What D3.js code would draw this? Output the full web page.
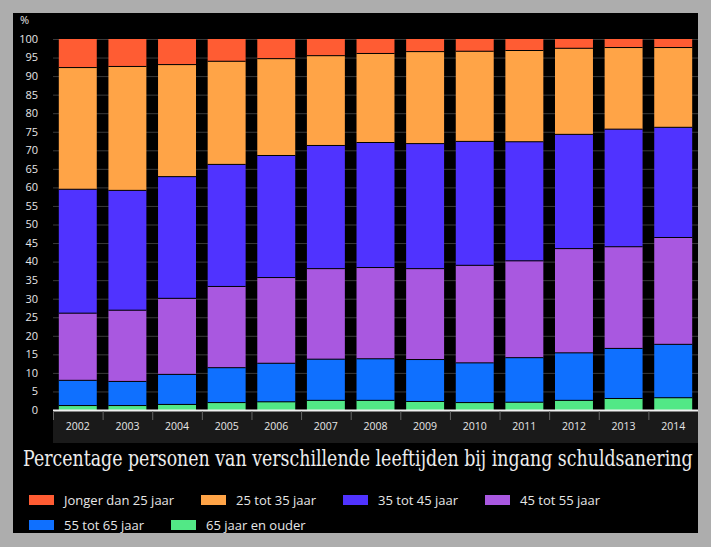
<!DOCTYPE html>
<html><head><meta charset="utf-8">
<script src="https://cdn.jsdelivr.net/npm/d3@7"></script>
<style>body{margin:0;background:#adadad;}svg{display:block;}</style>
</head><body>
<svg id="c" width="711" height="547"></svg>
<script>
const years = ["2002","2003","2004","2005","2006","2007","2008","2009","2010","2011","2012","2013","2014"];
const seriesNames = ["Jonger dan 25 jaar","25 tot 35 jaar","35 tot 45 jaar","45 tot 55 jaar","55 tot 65 jaar","65 jaar en ouder"];
const colors = ["#ff5c33","#ffa447","#5033ff","#a958e0","#0f70ff","#52e886"];
const s65plus = [1.2,1.2,1.5,2.0,2.2,2.6,2.6,2.3,2.0,2.1,2.6,3.1,3.3];
const s55_65 = [6.8,6.5,8.1,9.4,10.4,11.1,11.2,11.3,10.7,12.0,12.8,13.5,14.4];
const s45_55 = [18.1,19.2,20.5,21.9,23.1,24.4,24.6,24.5,26.3,26.1,28.1,27.4,28.8];
const s35_45 = [33.4,32.3,32.8,32.9,32.9,33.2,33.7,33.7,33.4,32.1,30.8,31.7,29.7];
const s25_35 = [32.8,33.4,30.2,27.8,26.1,24.2,24.0,24.8,24.3,24.6,23.2,22.0,21.5];
const sUnder25 = [7.7,7.4,6.9,6.0,5.3,4.5,3.9,3.4,3.3,3.1,2.5,2.3,2.3];
const yTicks = d3.range(0,101,5);
const title = "Percentage personen van verschillende leeftijden bij ingang schuldsanering";

const stackOrder = [s65plus,s55_65,s45_55,s35_45,s25_35,sUnder25];
const stackColors = [colors[5],colors[4],colors[3],colors[2],colors[1],colors[0]];
const rows = years.map((y,i)=>{const o={year:y}; stackOrder.forEach((s,k)=>o["k"+k]=s[i]); return o;});
const stacked = d3.stack().keys(stackOrder.map((s,k)=>"k"+k))(rows);

const svg = d3.select("#c");
svg.append("rect").attr("x",13).attr("y",13).attr("width",685).attr("height",520).attr("fill","#000");

const L=53,R=698,T=39,B=410;
const x = d3.scaleBand().domain(years).range([L,R]).paddingInner(0.235).paddingOuter(0.117);
const xb = d3.scaleBand().domain(years).range([L,R]);
const y = d3.scaleLinear().domain([0,100]).range([B,T]);

// axis strip
svg.append("rect").attr("x",L).attr("y",B).attr("width",R-L).attr("height",33).attr("fill","#1a1a1a");

// gridlines
svg.append("g").selectAll("line").data(yTicks.filter(d=>d>0)).join("line")
  .attr("x1",L).attr("x2",R).attr("y1",d=>y(d)+0.5).attr("y2",d=>y(d)+0.5)
  .attr("stroke","#3a3a3a").attr("stroke-width",1);

// y labels
svg.append("g").selectAll("text").data(yTicks).join("text")
  .attr("x",38).attr("y",d=>y(d)).attr("dy","0.35em").attr("text-anchor","end")
  .attr("fill","#e6e6e6").attr("font-family","Open Sans, sans-serif").attr("font-size",11)
  .text(d=>d);
svg.append("text").attr("x",20).attr("y",24).attr("fill","#e6e6e6")
  .attr("font-family","Open Sans, sans-serif").attr("font-size",11).text("%");

// bars
svg.append("g").selectAll("g").data(stacked).join("g")
  .attr("fill",(d,i)=>stackColors[i])
  .selectAll("rect").data(d=>d).join("rect")
  .attr("x",d=>x(d.data.year)).attr("width",x.bandwidth())
  .attr("y",d=>y(d[1])).attr("height",d=>y(d[0])-y(d[1]));
// segment separators
svg.append("g").selectAll("g").data(stacked.slice(0,-1)).join("g")
  .selectAll("line").data(d=>d).join("line")
  .attr("x1",d=>x(d.data.year)).attr("x2",d=>x(d.data.year)+x.bandwidth())
  .attr("y1",d=>y(d[1])).attr("y2",d=>y(d[1]))
  .attr("stroke","#000").attr("stroke-width",1);

// x axis baseline
svg.append("line").attr("x1",L).attr("x2",R).attr("y1",B+0.5).attr("y2",B+0.5)
  .attr("stroke","#f0f0f0").attr("stroke-width",2);
// tick separators
svg.append("g").selectAll("line").data(years).join("line")
  .attr("x1",d=>xb(d)+0.5).attr("x2",d=>xb(d)+0.5).attr("y1",B+1).attr("y2",B+10)
  .attr("stroke","#666");
svg.append("g").selectAll("text").data(years).join("text")
  .attr("x",d=>x(d)+x.bandwidth()/2).attr("y",426).attr("dy","0.35em").attr("text-anchor","middle")
  .attr("fill","#e6e6e6").attr("font-family","Open Sans, sans-serif").attr("font-size",10.5)
  .text(d=>d);

// title (horizontally condensed to match reference width)
const tg = svg.append("g");
const tt = tg.append("text").attr("x",0).attr("y",0).attr("fill","#ececec")
  .attr("font-family","DejaVu Serif, serif").attr("font-size",23).text(title);
const tw = tt.node().getComputedTextLength();
tg.attr("transform",`translate(23,466) scale(${670/tw},1)`);

// legend
const legPos = [[29,500],[201,500],[343,500],[485,500],[29,525],[171,525]];
const lg = svg.append("g").selectAll("g").data(seriesNames).join("g")
  .attr("transform",(d,i)=>`translate(${legPos[i][0]},${legPos[i][1]})`);
lg.append("rect").attr("x",0).attr("y",-5).attr("width",25).attr("height",10).attr("fill",(d,i)=>colors[i]);
lg.append("text").attr("x",35).attr("y",0).attr("dy","0.35em").attr("fill","#e6e6e6")
  .attr("font-family","Open Sans, sans-serif").attr("font-size",13).text(d=>d);
</script>
</body></html>
